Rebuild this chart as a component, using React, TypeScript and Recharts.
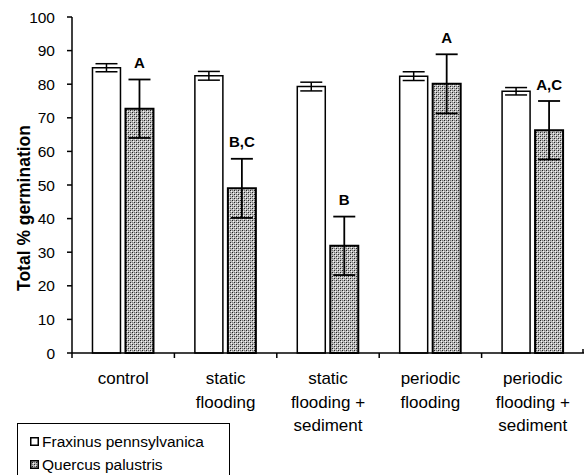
import { BarChart, Bar, XAxis, YAxis, ErrorBar, LabelList } from "recharts";

const FONT = '"Liberation Sans", Arial, Helvetica, sans-serif';

const categories = [
  "control",
  "static flooding",
  "static flooding + sediment",
  "periodic flooding",
  "periodic flooding + sediment",
];
const tickLines = [
  ["control"],
  ["static", "flooding"],
  ["static", "flooding +", "sediment"],
  ["periodic", "flooding"],
  ["periodic", "flooding +", "sediment"],
];
const fraxinus = [84.9, 82.5, 79.3, 82.4, 77.9];
const fraxinusErr = [1.2, 1.3, 1.3, 1.3, 1.1];
const quercus = [72.7, 49.0, 31.9, 80.1, 66.3];
const quercusErr = [8.7, 8.8, 8.7, 8.8, 8.7];
const letters = ["A", "B,C", "B", "A", "A,C"];
const yTicks = [0, 10, 20, 30, 40, 50, 60, 70, 80, 90, 100];

const data = categories.map((name, i) => ({
  name,
  fraxinus: fraxinus[i],
  fErr: fraxinusErr[i],
  quercus: quercus[i],
  qErr: quercusErr[i],
}));

const CHART_W = 584;
const CHART_H = 475;
const Y_AXIS_W = 72;
const HALF_BAND = (CHART_W - Y_AXIS_W) / categories.length / 2;

function XTick(props: any) {
  const { x, y, index } = props;
  const lines = tickLines[index] || [];
  const isLast = index === categories.length - 1;
  return (
    <g>
      <line x1={x - HALF_BAND} y1={y} x2={x - HALF_BAND} y2={y + 5} stroke="#000" strokeWidth={1.5} />
      {isLast && (
        <line x1={x + HALF_BAND - 1} y1={y} x2={x + HALF_BAND - 1} y2={y - 4} stroke="#000" strokeWidth={1.5} />
      )}
      <text x={x} y={y + 31} textAnchor="middle" fontFamily={FONT} fontSize={17} fill="#000">
        {lines.map((l, i) => (
          <tspan key={i} x={x} dy={i === 0 ? 0 : 23.5}>
            {l}
          </tspan>
        ))}
      </text>
    </g>
  );
}

function YLabel() {
  const cx = 24;
  const cy = 208;
  return (
    <text
      x={cx}
      y={cy}
      transform={`rotate(-90, ${cx}, ${cy})`}
      textAnchor="middle"
      dominantBaseline="central"
      fontFamily={FONT}
      fontWeight="bold"
      fontSize={17.5}
      fill="#000"
    >
      Total % germination
    </text>
  );
}

function LetterLabel(props: any) {
  const { x, y, width, height, index } = props;
  const v = quercus[index];
  const errTop = y - (quercusErr[index] * height) / v;
  return (
    <text
      x={x + width / 2}
      y={errTop - 11.5}
      textAnchor="middle"
      fontFamily={FONT}
      fontWeight="bold"
      fontSize={15}
      fill="#000"
    >
      {letters[index]}
    </text>
  );
}

function Halftone({ id }: { id: string }) {
  return (
    <pattern id={id} width={4} height={4} patternUnits="userSpaceOnUse">
      <rect width={4} height={4} fill="#bcbcbc" />
      <rect x={0} y={0} width={1} height={1} fill="#222" />
      <rect x={1} y={1} width={1} height={1} fill="#f6f6f6" />
      <rect x={2} y={2} width={1} height={1} fill="#222" />
      <rect x={3} y={3} width={1} height={1} fill="#f6f6f6" />
      <rect x={2} y={0} width={1} height={1} fill="#777" />
      <rect x={0} y={2} width={1} height={1} fill="#777" />
    </pattern>
  );
}

export default function App() {
  return (
    <div style={{ position: "absolute", left: 0, top: 0, width: CHART_W, height: CHART_H, background: "#fff" }}>
      <BarChart
        width={CHART_W}
        height={CHART_H}
        data={data}
        margin={{ top: 17, right: 0, left: 0, bottom: 0 }}
        barCategoryGap="20%"
        barGap={5}
      >
        <defs>
          <Halftone id="halftone" />
        </defs>
        <XAxis
          dataKey="name"
          tickLine={false}
          tickSize={0}
          tickMargin={0}
          axisLine={{ stroke: "#000", strokeWidth: 1.5 }}
          tick={<XTick />}
          interval={0}
          height={122}
        />
        <YAxis
          domain={[0, 100]}
          ticks={yTicks}
          interval={0}
          width={Y_AXIS_W}
          tickSize={5}
          tickMargin={12}
          axisLine={{ stroke: "#000", strokeWidth: 1.5 }}
          tickLine={{ stroke: "#000", strokeWidth: 1.5 }}
          tick={{ fill: "#000", fontFamily: FONT, fontSize: 15.5 }}
          label={<YLabel />}
        />
        <Bar dataKey="fraxinus" fill="#fff" stroke="#000" strokeWidth={1.5} isAnimationActive={false}>
          <ErrorBar dataKey="fErr" width={11} stroke="#000" strokeWidth={1.5} />
        </Bar>
        <Bar dataKey="quercus" fill="url(#halftone)" stroke="#000" strokeWidth={2} isAnimationActive={false}>
          <ErrorBar dataKey="qErr" width={11} stroke="#000" strokeWidth={1.8} />
          <LabelList dataKey="quercus" content={<LetterLabel />} />
        </Bar>
      </BarChart>

      <div
        style={{
          position: "absolute",
          left: 17,
          top: 423,
          width: 213,
          height: 70,
          border: "1px solid #000",
          boxSizing: "border-box",
          fontFamily: FONT,
          fontSize: 15.5,
          color: "#000",
          paddingLeft: 12,
          paddingTop: 6,
          lineHeight: "23px",
        }}
      >
        <div style={{ display: "flex", alignItems: "center" }}>
          <svg width={9} height={9} style={{ marginRight: 3 }}>
            <rect x={0.75} y={0.75} width={7.5} height={7.5} fill="#fff" stroke="#000" strokeWidth={1.5} />
          </svg>
          <span>Fraxinus pennsylvanica</span>
        </div>
        <div style={{ display: "flex", alignItems: "center" }}>
          <svg width={9} height={9} style={{ marginRight: 3 }}>
            <defs>
              <Halftone id="halftone-legend" />
            </defs>
            <rect x={0.75} y={0.75} width={7.5} height={7.5} fill="url(#halftone-legend)" stroke="#000" strokeWidth={1.5} />
          </svg>
          <span>Quercus palustris</span>
        </div>
      </div>
    </div>
  );
}
